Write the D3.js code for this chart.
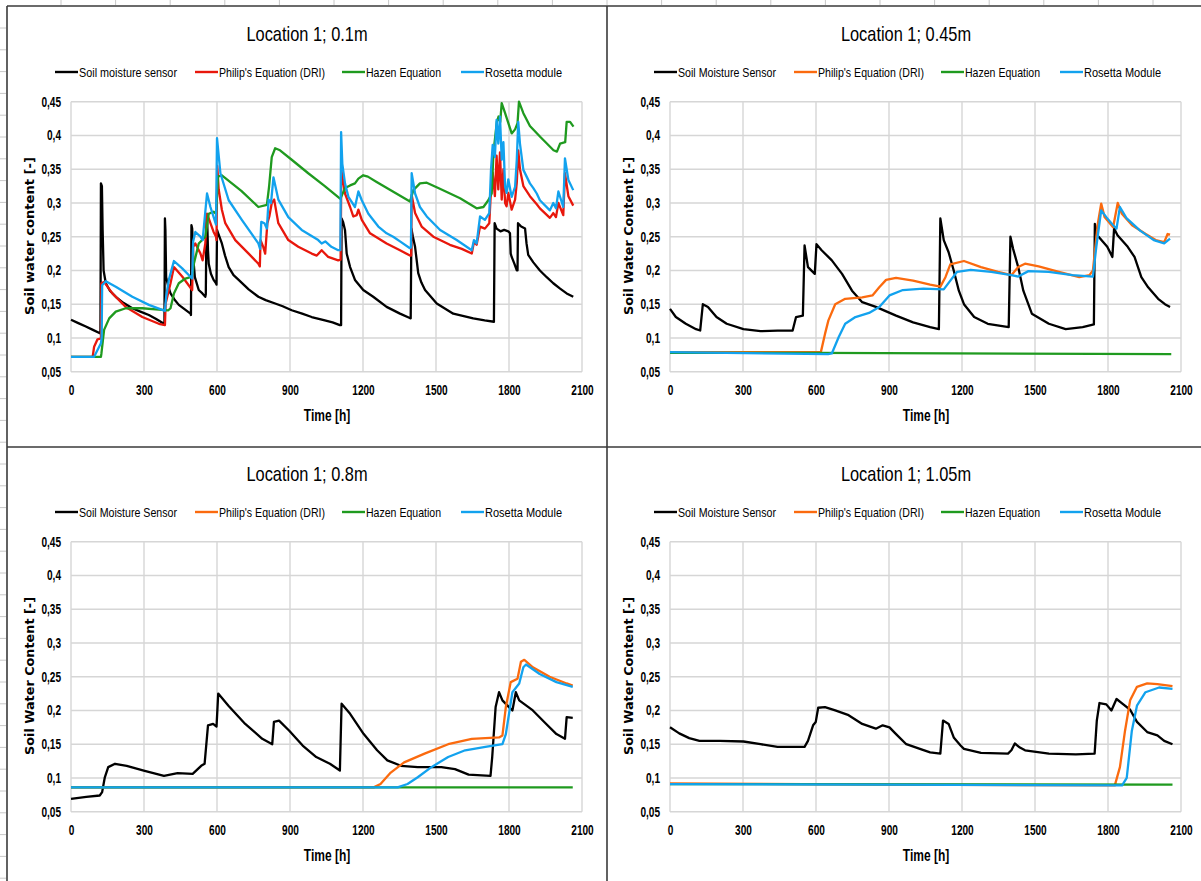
<!DOCTYPE html>
<html>
<head>
<meta charset="utf-8">
<script src="https://cdn.jsdelivr.net/npm/d3@7"></script>
<style>
  body { margin: 0; background: #fff; }
  svg { display: block; }
  text { font-family: "Liberation Sans", Arial, sans-serif; fill: #000; }
</style>
</head>
<body>
<svg id="chart" width="1201" height="881"></svg>
<script>
// ticks
var timeTicks = [0, 300, 600, 900, 1200, 1500, 1800, 2100];
var yTicks = [0.05, 0.1, 0.15, 0.2, 0.25, 0.3, 0.35, 0.4, 0.45];
var yTickLabels = ["0,05", "0,1", "0,15", "0,2", "0,25", "0,3", "0,35", "0,4", "0,45"];

var titles = ["Location 1; 0.1m", "Location 1; 0.45m", "Location 1; 0.8m", "Location 1; 1.05m"];
var legend1 = ["Soil moisture sensor", "Philip's Equation (DRI)", "Hazen Equation", "Rosetta module"];
var legend2 = ["Soil Moisture Sensor", "Philip's Equation (DRI)", "Hazen Equation", "Rosetta Module"];
var colors1 = ["#000000", "#e8170c", "#1f9a1f", "#12a2ee"];
var colors2 = ["#000000", "#fb6a0e", "#1f9a1f", "#12a2ee"];

// Location 1; 0.1m  -- [time h, water content]
var p1Sensor = [[0,0.127],[30,0.122],[61,0.117],[90,0.112],[119,0.107],[121,0.107],[123,0.329],[127,0.325],[130,0.26],[134,0.2],[143,0.181],[160,0.17],[184,0.161],[215,0.152],[252,0.144],[285,0.139],[320,0.134],[350,0.128],[382,0.121],[384,0.12],[386,0.277],[388,0.26],[391,0.19],[400,0.176],[409,0.166],[425,0.157],[443,0.149],[465,0.143],[491,0.136],[493,0.134],[495,0.267],[498,0.262],[502,0.22],[509,0.19],[525,0.171],[540,0.166],[552,0.161],[554,0.165],[557,0.28],[560,0.27],[563,0.23],[566,0.21],[575,0.195],[586,0.186],[596,0.181],[598,0.179],[600,0.26],[605,0.255],[620,0.24],[633,0.222],[648,0.205],[668,0.193],[689,0.186],[730,0.172],[770,0.161],[800,0.156],[839,0.151],[870,0.147],[907,0.141],[950,0.136],[989,0.131],[1043,0.126],[1075,0.123],[1105,0.119],[1110,0.119],[1112,0.277],[1118,0.272],[1126,0.26],[1133,0.225],[1147,0.205],[1167,0.186],[1201,0.171],[1242,0.161],[1297,0.146],[1352,0.136],[1390,0.13],[1396,0.129],[1399,0.262],[1405,0.25],[1414,0.235],[1427,0.196],[1440,0.182],[1455,0.171],[1503,0.151],[1571,0.136],[1653,0.129],[1700,0.126],[1738,0.124],[1741,0.27],[1749,0.262],[1765,0.258],[1780,0.26],[1797,0.258],[1804,0.255],[1807,0.225],[1811,0.22],[1822,0.21],[1832,0.2],[1835,0.2],[1837,0.27],[1850,0.265],[1866,0.262],[1872,0.24],[1879,0.223],[1900,0.212],[1927,0.2],[1955,0.19],[1982,0.181],[2010,0.173],[2037,0.166],[2064,0.161]];
var p1Philip = [[0,0.072],[89,0.072],[95,0.087],[109,0.098],[120,0.099],[123,0.1],[125,0.181],[136,0.183],[170,0.166],[225,0.146],[293,0.131],[361,0.121],[386,0.119],[389,0.151],[409,0.181],[423,0.205],[457,0.191],[498,0.171],[502,0.235],[511,0.24],[532,0.225],[541,0.215],[552,0.24],[559,0.284],[573,0.27],[586,0.257],[596,0.25],[598,0.245],[601,0.355],[607,0.32],[620,0.29],[634,0.27],[675,0.245],[730,0.225],[770,0.21],[776,0.206],[779,0.245],[790,0.235],[798,0.225],[807,0.27],[815,0.28],[825,0.3],[835,0.305],[852,0.27],[893,0.245],[934,0.235],[989,0.225],[1010,0.222],[1030,0.23],[1057,0.22],[1098,0.215],[1108,0.216],[1111,0.349],[1126,0.314],[1147,0.294],[1160,0.28],[1174,0.282],[1181,0.29],[1195,0.275],[1229,0.255],[1297,0.24],[1352,0.23],[1393,0.222],[1398,0.222],[1400,0.312],[1414,0.285],[1441,0.265],[1489,0.25],[1557,0.238],[1606,0.232],[1647,0.225],[1656,0.242],[1667,0.238],[1681,0.265],[1701,0.262],[1719,0.27],[1726,0.32],[1733,0.345],[1742,0.31],[1749,0.37],[1756,0.32],[1763,0.375],[1770,0.305],[1777,0.35],[1784,0.3],[1790,0.295],[1797,0.315],[1811,0.29],[1825,0.305],[1832,0.33],[1838,0.378],[1845,0.35],[1859,0.325],[1886,0.31],[1914,0.298],[1927,0.292],[1968,0.278],[1982,0.285],[1993,0.279],[2003,0.3],[2023,0.282],[2030,0.344],[2044,0.31],[2064,0.296]];
var p1Hazen = [[0,0.072],[123,0.072],[125,0.077],[136,0.112],[157,0.129],[184,0.139],[225,0.144],[293,0.144],[361,0.142],[400,0.141],[409,0.144],[423,0.166],[443,0.181],[470,0.188],[498,0.191],[505,0.21],[525,0.24],[552,0.25],[566,0.284],[586,0.287],[596,0.284],[604,0.339],[620,0.341],[700,0.318],[770,0.294],[805,0.297],[814,0.324],[825,0.368],[839,0.381],[859,0.378],[907,0.364],[975,0.344],[1043,0.325],[1107,0.306],[1126,0.322],[1147,0.326],[1167,0.329],[1181,0.336],[1201,0.341],[1220,0.339],[1256,0.331],[1393,0.302],[1407,0.319],[1434,0.329],[1462,0.33],[1516,0.321],[1599,0.307],[1667,0.292],[1695,0.294],[1715,0.304],[1729,0.314],[1736,0.374],[1750,0.42],[1757,0.428],[1764,0.42],[1770,0.448],[1784,0.433],[1811,0.403],[1825,0.409],[1835,0.418],[1841,0.45],[1859,0.433],[1886,0.414],[1928,0.398],[1983,0.378],[1997,0.376],[2010,0.388],[2031,0.39],[2037,0.42],[2051,0.42],[2065,0.413]];
var p1Rosetta = [[0,0.072],[95,0.072],[109,0.082],[123,0.092],[126,0.1],[128,0.178],[143,0.184],[184,0.176],[252,0.161],[320,0.149],[386,0.14],[391,0.161],[402,0.186],[423,0.214],[457,0.203],[498,0.188],[502,0.243],[511,0.257],[532,0.25],[541,0.245],[559,0.314],[573,0.294],[596,0.268],[600,0.396],[614,0.344],[648,0.304],[702,0.275],[770,0.24],[777,0.232],[782,0.272],[795,0.27],[805,0.262],[812,0.305],[822,0.3],[832,0.338],[852,0.305],[893,0.279],[948,0.26],[1016,0.245],[1030,0.24],[1045,0.243],[1070,0.235],[1098,0.23],[1107,0.23],[1110,0.405],[1115,0.358],[1126,0.329],[1140,0.309],[1167,0.294],[1181,0.317],[1195,0.304],[1222,0.284],[1263,0.265],[1297,0.255],[1324,0.25],[1352,0.243],[1393,0.233],[1397,0.234],[1400,0.344],[1414,0.314],[1434,0.294],[1462,0.28],[1517,0.26],[1585,0.245],[1647,0.23],[1656,0.245],[1667,0.24],[1681,0.28],[1701,0.275],[1719,0.285],[1726,0.349],[1733,0.386],[1742,0.368],[1749,0.423],[1756,0.388],[1763,0.428],[1770,0.364],[1777,0.39],[1784,0.324],[1790,0.315],[1797,0.335],[1811,0.309],[1825,0.324],[1832,0.364],[1838,0.42],[1845,0.388],[1859,0.349],[1886,0.329],[1900,0.322],[1914,0.314],[1927,0.304],[1968,0.289],[1982,0.3],[1993,0.292],[2003,0.317],[2023,0.294],[2030,0.366],[2044,0.334],[2064,0.319]];

// Location 1; 0.45m
var p2Sensor = [[0,0.143],[24,0.131],[65,0.121],[107,0.113],[124,0.111],[135,0.15],[156,0.146],[191,0.131],[233,0.121],[302,0.113],[372,0.11],[442,0.111],[504,0.111],[518,0.131],[546,0.133],[553,0.237],[567,0.205],[595,0.195],[602,0.239],[623,0.23],[665,0.215],[707,0.195],[748,0.17],[790,0.153],[846,0.146],[929,0.133],[999,0.123],[1069,0.116],[1105,0.113],[1111,0.277],[1125,0.245],[1145,0.227],[1166,0.2],[1187,0.17],[1208,0.15],[1250,0.131],[1306,0.121],[1392,0.116],[1399,0.25],[1410,0.232],[1431,0.205],[1452,0.17],[1487,0.136],[1557,0.121],[1626,0.113],[1696,0.116],[1742,0.12],[1746,0.269],[1756,0.252],[1797,0.235],[1818,0.22],[1825,0.262],[1839,0.252],[1881,0.235],[1909,0.22],[1937,0.19],[1965,0.175],[2006,0.158],[2034,0.15],[2055,0.146]];
var p2Philip = [[0,0.079],[620,0.079],[637,0.106],[651,0.126],[679,0.15],[720,0.158],[790,0.16],[832,0.163],[860,0.175],[888,0.186],[929,0.189],[999,0.185],[1069,0.179],[1111,0.176],[1132,0.19],[1152,0.209],[1208,0.214],[1278,0.205],[1348,0.198],[1403,0.193],[1431,0.205],[1459,0.21],[1515,0.206],[1598,0.198],[1682,0.19],[1724,0.193],[1738,0.2],[1758,0.269],[1772,0.299],[1786,0.279],[1821,0.264],[1840,0.3],[1857,0.284],[1899,0.267],[1955,0.254],[1996,0.245],[2031,0.242],[2045,0.254],[2055,0.253]];
var p2Hazen = [[0,0.078],[600,0.078],[2060,0.076]];
var p2Rosetta = [[0,0.079],[650,0.076],[665,0.077],[693,0.101],[720,0.121],[762,0.131],[818,0.137],[860,0.146],[902,0.163],[957,0.171],[1041,0.173],[1125,0.172],[1152,0.185],[1180,0.198],[1236,0.201],[1320,0.198],[1403,0.193],[1431,0.191],[1473,0.199],[1557,0.198],[1654,0.193],[1738,0.191],[1752,0.235],[1772,0.289],[1793,0.279],[1821,0.267],[1835,0.262],[1849,0.294],[1877,0.277],[1932,0.259],[1988,0.245],[2031,0.24],[2055,0.247]];

// Location 1; 0.8m
var p3Sensor = [[0,0.069],[63,0.072],[118,0.074],[128,0.079],[139,0.101],[153,0.116],[181,0.121],[229,0.118],[299,0.111],[382,0.103],[438,0.107],[500,0.106],[535,0.118],[549,0.121],[563,0.178],[584,0.18],[598,0.176],[605,0.225],[647,0.207],[716,0.18],[786,0.158],[827,0.15],[834,0.183],[855,0.185],[897,0.17],[952,0.148],[1008,0.131],[1064,0.121],[1105,0.111],[1112,0.21],[1147,0.195],[1203,0.165],[1258,0.141],[1300,0.126],[1356,0.118],[1425,0.116],[1522,0.116],[1578,0.113],[1634,0.105],[1724,0.103],[1731,0.131],[1745,0.205],[1759,0.227],[1773,0.215],[1800,0.205],[1814,0.2],[1828,0.227],[1842,0.215],[1898,0.2],[1953,0.18],[1995,0.165],[2030,0.158],[2037,0.19],[2062,0.189]];
var p3Philip = [[0,0.086],[1244,0.086],[1272,0.091],[1314,0.108],[1369,0.123],[1453,0.136],[1550,0.15],[1647,0.158],[1759,0.16],[1773,0.163],[1787,0.205],[1807,0.242],[1835,0.247],[1849,0.272],[1863,0.275],[1898,0.264],[1967,0.25],[2037,0.24],[2062,0.237]];
var p3Hazen = [[0,0.086],[2062,0.086]];
var p3Rosetta = [[0,0.086],[1342,0.086],[1383,0.091],[1425,0.101],[1481,0.116],[1550,0.131],[1620,0.141],[1703,0.146],[1773,0.15],[1787,0.165],[1814,0.227],[1842,0.24],[1859,0.264],[1870,0.268],[1926,0.254],[1995,0.242],[2062,0.235]];

// Location 1; 1.05m
var p4Sensor = [[0,0.175],[38,0.166],[79,0.159],[121,0.155],[205,0.155],[302,0.154],[372,0.15],[442,0.146],[553,0.146],[567,0.155],[588,0.178],[599,0.183],[609,0.204],[637,0.205],[679,0.2],[734,0.193],[790,0.18],[846,0.173],[874,0.178],[902,0.175],[929,0.165],[971,0.15],[1027,0.143],[1069,0.138],[1111,0.136],[1122,0.185],[1145,0.18],[1166,0.16],[1194,0.148],[1208,0.143],[1278,0.137],[1389,0.136],[1403,0.141],[1417,0.151],[1438,0.145],[1459,0.141],[1557,0.136],[1668,0.135],[1745,0.136],[1754,0.185],[1765,0.211],[1793,0.209],[1814,0.2],[1835,0.217],[1863,0.209],[1891,0.201],[1919,0.183],[1961,0.168],[2003,0.163],[2031,0.155],[2065,0.15]];
var p4Philip = [[0,0.092],[900,0.09],[1828,0.089],[1849,0.116],[1870,0.17],[1891,0.215],[1919,0.235],[1961,0.24],[2003,0.239],[2065,0.236]];
var p4Hazen = [[0,0.091],[2065,0.09]];
var p4Rosetta = [[0,0.091],[900,0.09],[1858,0.089],[1877,0.1],[1898,0.17],[1919,0.207],[1954,0.227],[2010,0.234],[2065,0.232]];

var panels = [
  {dx: 0,   dy: 0,   title: titles[0], yTitle: "Soil water content [-]", legend: legend1, colors: colors1, series: [p1Sensor, p1Philip, p1Hazen, p1Rosetta]},
  {dx: 599, dy: 0,   title: titles[1], yTitle: "Soil Water Content [-]", legend: legend2, colors: colors2, series: [p2Sensor, p2Philip, p2Hazen, p2Rosetta]},
  {dx: 0,   dy: 440, title: titles[2], yTitle: "Soil Water Content [-]", legend: legend2, colors: colors2, series: [p3Sensor, p3Philip, p3Hazen, p3Rosetta]},
  {dx: 599, dy: 440, title: titles[3], yTitle: "Soil Water Content [-]", legend: legend2, colors: colors2, series: [p4Sensor, p4Philip, p4Hazen, p4Rosetta]}
];

var svg = d3.select("#chart");

// squeeze text horizontally (the original uses a narrow font)
function condense(sel, f) {
  sel.each(function () {
    var w = this.getComputedTextLength();
    d3.select(this).attr("textLength", w * f).attr("lengthAdjust", "spacingAndGlyphs");
  });
}

// spreadsheet cell marks behind the charts
svg.selectAll("line.col")
  .data(d3.range(0, 21))
  .enter().append("line")
    .attr("x1", function (d) { return 61 + d * 54.6; })
    .attr("x2", function (d) { return 61 + d * 54.6; })
    .attr("y1", 0).attr("y2", 5)
    .style("stroke", "#c8c8c8").style("stroke-width", 1);
svg.selectAll("line.row")
  .data(d3.range(0, 40))
  .enter().append("line")
    .attr("x1", 0).attr("x2", 6)
    .attr("y1", function (d) { return 28 + d * 21.8; })
    .attr("y2", function (d) { return 28 + d * 21.8; })
    .style("stroke", "#c8c8c8").style("stroke-width", 1);

var x = d3.scaleLinear().domain([0, 2100]).range([71, 582]);
var y = d3.scaleLinear().domain([0.05, 0.45]).range([371.7, 101.7]);
var line = d3.line()
  .x(function (d) { return x(d[0]); })
  .y(function (d) { return y(d[1]); });

var legendX = [55, 195, 342, 461];
var legendW = [98, 106, 75, 77];

panels.forEach(function (p) {
  var g = svg.append("g").attr("transform", "translate(" + p.dx + "," + p.dy + ")");

  // grid
  g.selectAll("line.hg").data(yTicks).enter().append("line")
    .attr("x1", x(0)).attr("x2", x(2100))
    .attr("y1", function (d) { return y(d); }).attr("y2", function (d) { return y(d); })
    .style("stroke", "#d6d6d6").style("stroke-width", 1.4);
  g.selectAll("line.vg").data(timeTicks).enter().append("line")
    .attr("x1", function (d) { return x(d); }).attr("x2", function (d) { return x(d); })
    .attr("y1", y(0.45)).attr("y2", y(0.05))
    .style("stroke", "#d6d6d6").style("stroke-width", 1.4);

  // axes
  var xAxis = d3.axisBottom(x).tickValues(timeTicks).tickSize(0).tickPadding(13)
    .tickFormat(d3.format("d"));
  var yAxis = d3.axisLeft(y).tickValues(yTicks).tickSize(0).tickPadding(10)
    .tickFormat(function (d, i) { return yTickLabels[i]; });
  var gx = g.append("g").attr("transform", "translate(0," + y(0.05) + ")").call(xAxis);
  var gy = g.append("g").attr("transform", "translate(" + x(0) + ",0)").call(yAxis);
  [gx, gy].forEach(function (a) {
    a.select(".domain").remove();
    a.selectAll("text")
      .style("font-family", '"Liberation Sans", Arial, sans-serif')
      .style("font-weight", "bold").style("font-size", "14px").style("fill", "#000");
    condense(a.selectAll("text"), 0.72);
  });

  // series
  p.series.forEach(function (s, i) {
    g.append("path").datum(s)
      .attr("d", line)
      .style("fill", "none")
      .style("stroke", p.colors[i])
      .style("stroke-width", 2.3)
      .style("stroke-linejoin", "round");
  });

  // title
  var t = g.append("text")
    .attr("x", 307).attr("y", 41)
    .attr("text-anchor", "middle")
    .style("font-size", "21px")
    .text(p.title);
  condense(t, 0.78);

  // legend
  p.legend.forEach(function (lab, i) {
    g.append("line")
      .attr("x1", legendX[i]).attr("x2", legendX[i] + 23)
      .attr("y1", 72).attr("y2", 72)
      .style("stroke", p.colors[i]).style("stroke-width", 2.4);
    g.append("text")
      .attr("x", legendX[i] + 24).attr("y", 76.5)
      .attr("textLength", legendW[i]).attr("lengthAdjust", "spacingAndGlyphs")
      .style("font-size", "13.5px")
      .text(lab);
  });

  // axis titles
  var tx = g.append("text")
    .attr("x", 327).attr("y", 421)
    .attr("text-anchor", "middle")
    .style("font-size", "16px").style("font-weight", "bold")
    .text("Time [h]");
  condense(tx, 0.75);
  g.append("text")
    .attr("transform", "translate(34,236) rotate(-90)")
    .attr("text-anchor", "middle")
    .attr("textLength", 158).attr("lengthAdjust", "spacingAndGlyphs")
    .style("font-family", '"DejaVu Sans", Verdana, sans-serif')
    .style("font-size", "13px").style("font-weight", "bold")
    .text(p.yTitle);
});

// panel frame lines
var frame = [
  [7, 6, 1201, 6],
  [7, 6, 7, 881],
  [607, 6, 607, 881],
  [7, 447, 1201, 447]
];
svg.selectAll("line.frame").data(frame).enter().append("line")
  .attr("x1", function (d) { return d[0]; }).attr("y1", function (d) { return d[1]; })
  .attr("x2", function (d) { return d[2]; }).attr("y2", function (d) { return d[3]; })
  .style("stroke", "#3a3a3a").style("stroke-width", 1.6);
</script>
</body>
</html>
